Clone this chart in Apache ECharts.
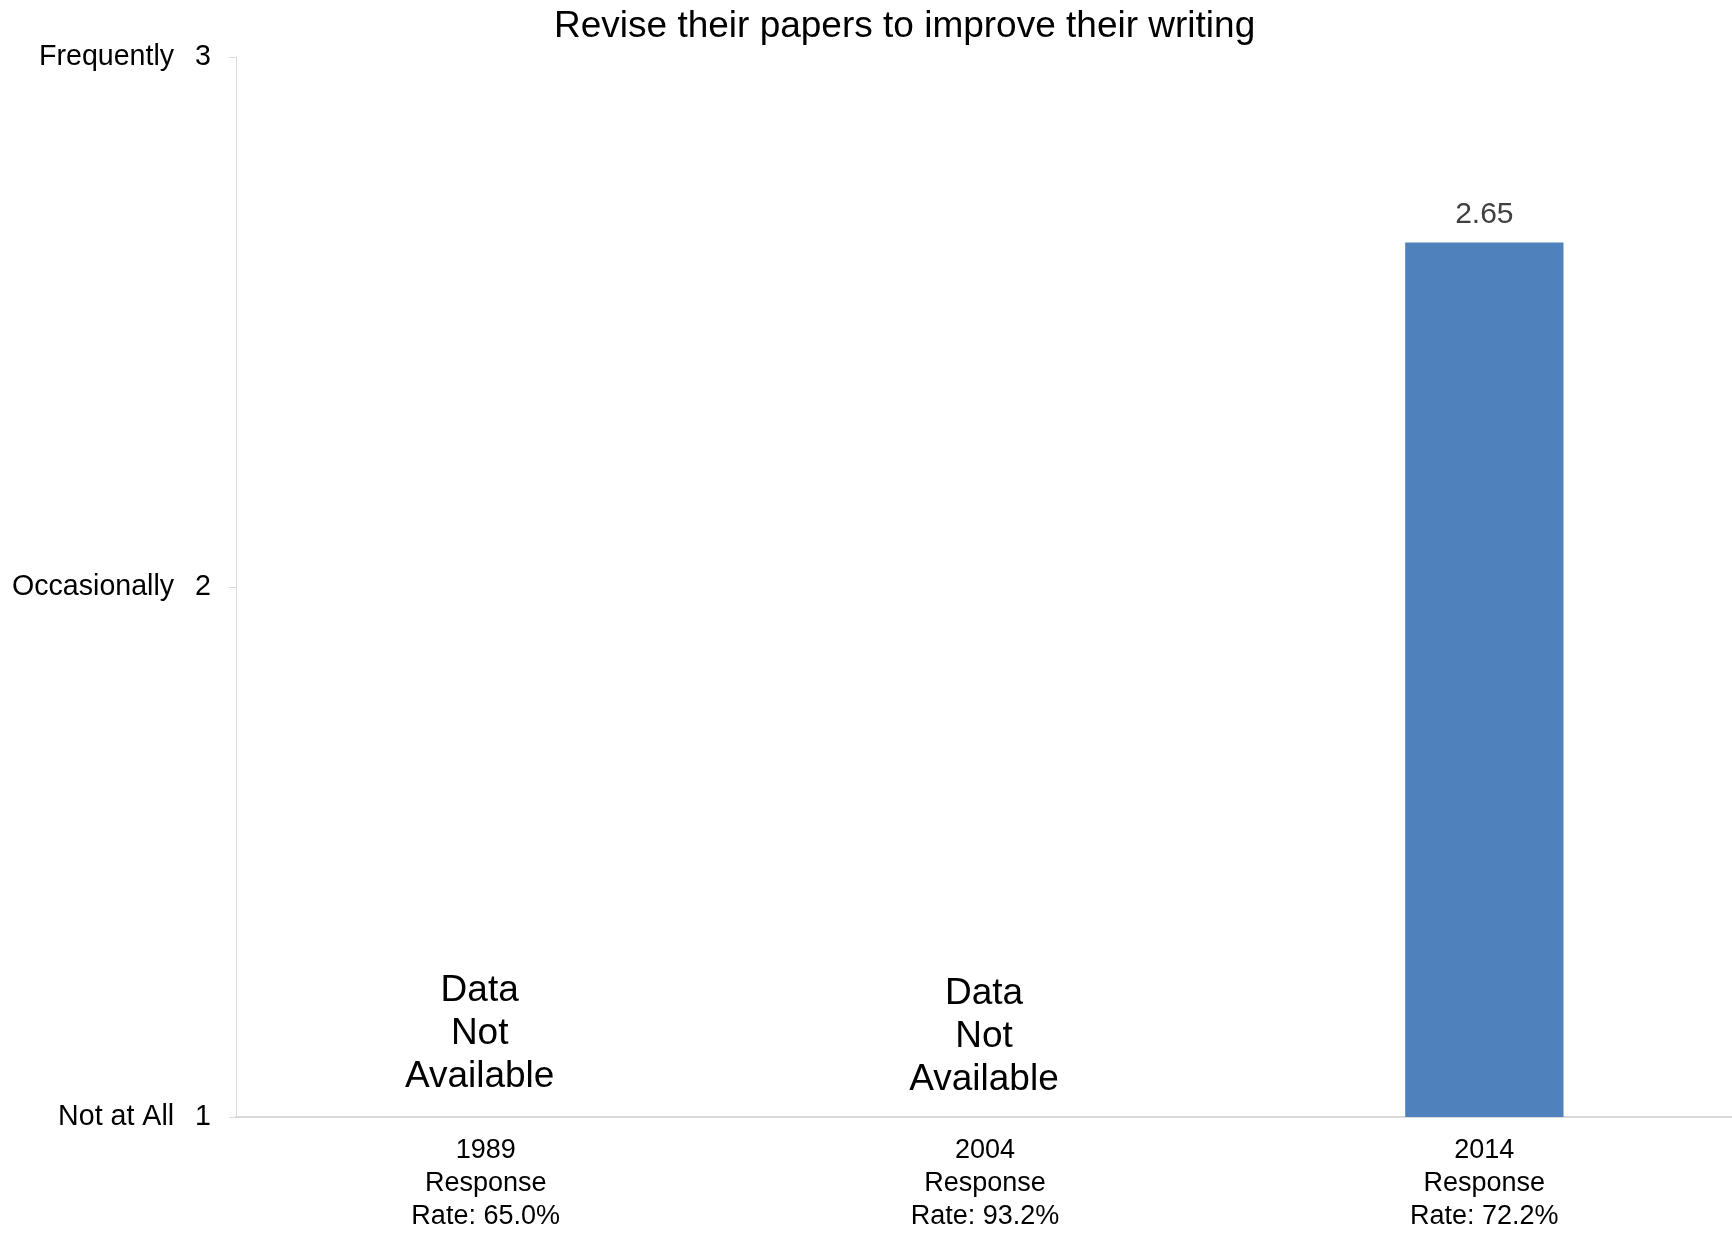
<!DOCTYPE html>
<html>
<head>
<meta charset="utf-8">
<script src="https://cdn.jsdelivr.net/npm/echarts@6/dist/echarts.min.js"></script>
<style>html,body{margin:0;padding:0;background:#fff}#c{width:1732px;height:1233px}</style>
</head>
<body>
<div id="c"></div>
<script>
const titleText = 'Revise their papers to improve their writing';
const categories = ['1989\nResponse\nRate: 65.0%', '2004\nResponse\nRate: 93.2%', '2014\nResponse\nRate: 72.2%'];
const values = [null, null, 2.65];
const unavailableCats = [0, 1];
const unavailableText = 'Data\nNot\nAvailable';
const yTickNames = {1: 'Not at All', 2: 'Occasionally', 3: 'Frequently'};

const FONT = '"Liberation Sans", Arial, sans-serif';
const chart = echarts.init(document.getElementById('c'));
const naOffsets = [[-6, -3], [-1, 0]];
chart.setOption({
  animation: false,
  backgroundColor: '#fff',
  title: {
    text: titleText, left: 554, top: 8, padding: 0,
    textStyle: {fontFamily: FONT, fontSize: 37, fontWeight: 'normal', color: '#000'}
  },
  grid: {left: 236, right: -2, top: 57, bottom: 116, containLabel: false, outerBoundsMode: 'none'},
  xAxis: {
    type: 'category', data: categories,
    axisLine: {lineStyle: {color: '#d9d9d9', width: 2}},
    axisTick: {show: false},
    axisLabel: {fontFamily: FONT, fontSize: 27, color: '#000', lineHeight: 33, margin: 17, interval: 0}
  },
  yAxis: {
    type: 'value', min: 1, max: 3, interval: 1,
    axisLine: {show: true, lineStyle: {color: '#d9d9d9', width: 1}},
    axisTick: {show: true, length: 7, lineStyle: {color: '#d9d9d9'}},
    splitLine: {show: false},
    axisLabel: {
      fontFamily: FONT, fontSize: 28.6, color: '#000', margin: 25,
      formatter: v => '{n|' + (yTickNames[v] || '') + '}{v|' + v + '}',
      rich: {
        n: {fontFamily: FONT, fontSize: 28.6, color: '#000', padding: [0, 21, 0, 0]},
        v: {fontFamily: FONT, fontSize: 28.6, color: '#000'}
      }
    }
  },
  series: [
    {
      type: 'bar', data: values, barWidth: '31.7%',
      itemStyle: {color: '#4f81bd'},
      label: {show: true, position: 'top', distance: 13, fontFamily: FONT, fontSize: 30, color: '#404040',
        formatter: p => p.value == null ? '' : p.value.toFixed(2)}
    },
    {
      type: 'scatter', symbolSize: 0, silent: true,
      itemStyle: {opacity: 1},
      data: unavailableCats.map((c, i) => ({
        value: [c, 1],
        label: {offset: naOffsets[i], color: '#000', opacity: 1}
      })),
      label: {show: true, position: 'top', distance: 16, fontFamily: FONT, fontSize: 37, lineHeight: 43,
        color: '#000', opacity: 1, align: 'center', formatter: () => unavailableText}
    }
  ]
});
</script>
</body>
</html>
